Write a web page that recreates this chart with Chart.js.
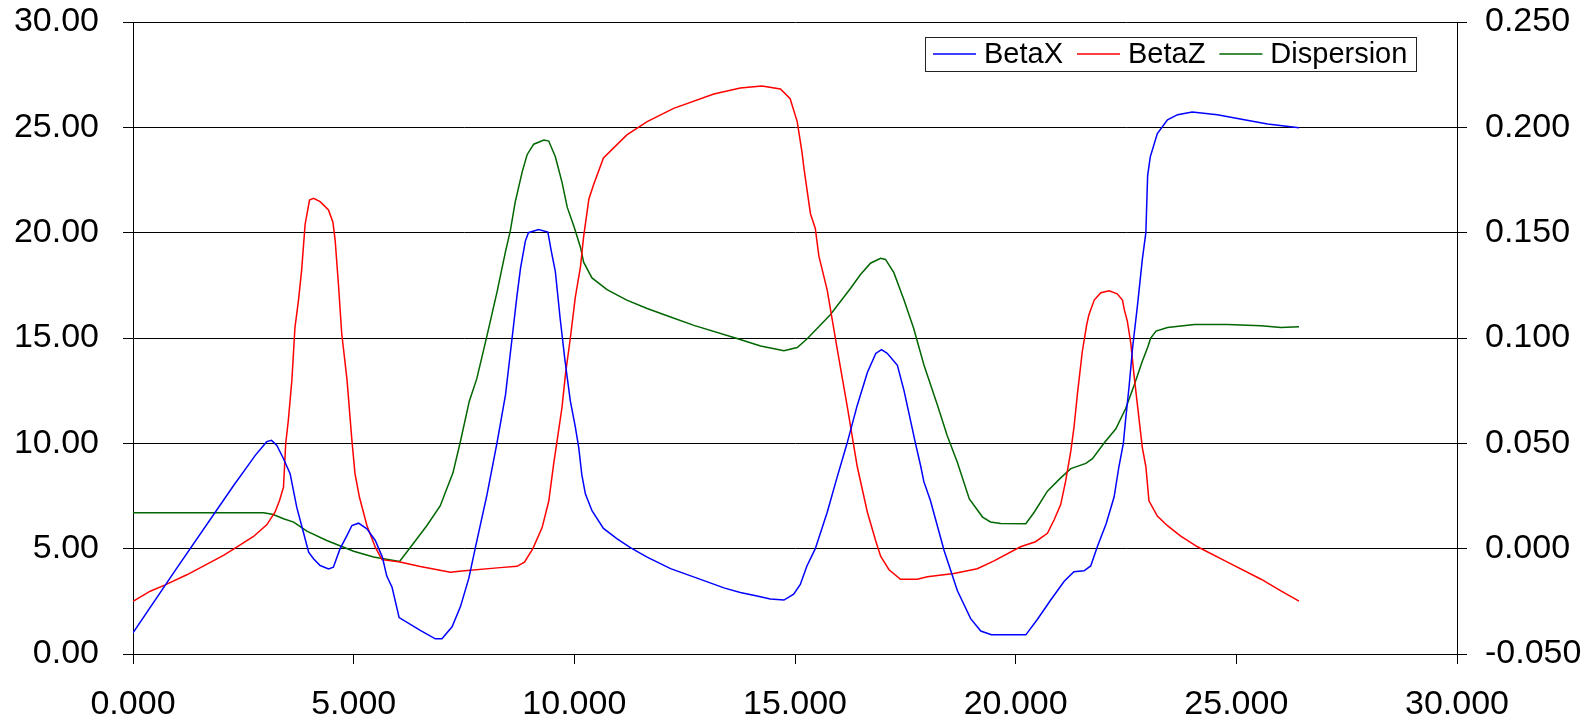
<!DOCTYPE html>
<html>
<head>
<meta charset="utf-8">
<script src="https://cdn.jsdelivr.net/npm/chart.js@4.4.1/dist/chart.umd.min.js"></script>
<style>
    html, body { margin: 0; padding: 0; background: #fff; }
</style>
</head>
<body>
<canvas id="latticeChart" width="1592" height="719"></canvas>
<script>
// ==================== DATA ====================
// longitudinal position (x axis) and value for each series

const betaXPos = [0.00, 1.00, 2.28, 2.58, 2.77, 3.03, 3.14, 3.26, 3.41, 3.56, 3.71, 3.85, 3.98, 4.09, 4.24, 4.43, 4.54, 4.69, 4.85, 4.96,
    5.11, 5.30, 5.49, 5.65, 5.75, 5.87, 6.03, 6.51, 6.85, 7.00, 7.23, 7.42, 7.61, 7.76, 8.02, 8.25, 8.44, 8.59, 8.70, 8.78,
    8.89, 8.96, 9.19, 9.40, 9.48, 9.57, 9.68, 9.79, 9.91, 10.02, 10.10, 10.17, 10.25, 10.40, 10.66, 10.97, 11.27, 11.65, 12.18, 12.78,
    13.39, 13.76, 14.14, 14.44, 14.75, 14.97, 15.12, 15.27, 15.46, 15.73, 15.95, 16.18, 16.41, 16.64, 16.83, 16.96, 17.09, 17.32, 17.47, 17.58,
    17.73, 17.85, 17.92, 18.07, 18.38, 18.68, 18.98, 19.21, 19.45, 20.23, 20.49, 20.79, 21.10, 21.32, 21.55, 21.70, 21.85, 22.05, 22.23, 22.34,
    22.44, 22.49, 22.57, 22.65, 22.76, 22.87, 22.95, 22.99, 23.05, 23.21, 23.44, 23.67, 24.00, 24.57, 25.18, 25.71, 26.42];
const betaX = [1.00, 4.10, 8.00, 8.87, 9.43, 10.08, 10.14, 9.90, 9.27, 8.56, 6.97, 5.86, 4.83, 4.52, 4.20, 4.04, 4.12, 4.99, 5.63, 6.10,
    6.21, 5.94, 5.39, 4.60, 3.70, 3.17, 1.73, 1.12, 0.72, 0.72, 1.29, 2.25, 3.60, 5.07, 7.55, 10.05, 12.30, 15.00, 17.00, 18.30,
    19.60, 20.00, 20.15, 20.03, 19.10, 18.15, 15.90, 13.90, 12.00, 10.80, 9.80, 8.50, 7.60, 6.80, 5.96, 5.47, 5.05, 4.60, 4.05, 3.60,
    3.14, 2.92, 2.75, 2.61, 2.56, 2.84, 3.30, 4.18, 5.00, 6.73, 8.36, 10.00, 11.80, 13.36, 14.27, 14.45, 14.27, 13.70, 12.50, 11.45,
    10.00, 8.90, 8.18, 7.27, 4.90, 3.00, 1.68, 1.09, 0.91, 0.91, 1.64, 2.55, 3.45, 3.91, 3.95, 4.18, 5.09, 6.18, 7.45, 8.90,
    10.00, 11.10, 12.70, 14.55, 16.55, 18.73, 20.00, 22.70, 23.60, 24.70, 25.36, 25.60, 25.73, 25.60, 25.36, 25.16, 24.98];

const betaZPos = [0.00, 0.39, 0.73, 1.22, 2.05, 2.35, 2.73, 3.03, 3.22, 3.32, 3.41, 3.46, 3.52, 3.60, 3.67, 3.75, 3.82, 3.90, 4.00, 4.09,
    4.24, 4.43, 4.53, 4.58, 4.66, 4.73, 4.85, 4.96, 5.03, 5.13, 5.30, 5.49, 5.64, 6.05, 6.51, 7.19, 7.45, 8.32, 8.70, 8.87,
    9.06, 9.27, 9.42, 9.53, 9.61, 9.72, 9.80, 9.91, 10.02, 10.14, 10.21, 10.33, 10.44, 10.66, 11.19, 11.65, 12.25, 13.16, 13.76, 14.25,
    14.67, 14.89, 15.05, 15.16, 15.20, 15.35, 15.46, 15.54, 15.73, 15.95, 16.18, 16.41, 16.64, 16.83, 16.94, 17.13, 17.39, 17.77, 18.00, 18.60,
    19.13, 19.51, 20.11, 20.45, 20.72, 20.87, 21.02, 21.13, 21.25, 21.32, 21.40, 21.51, 21.61, 21.66, 21.78, 21.93, 22.12, 22.30, 22.42, 22.46,
    22.53, 22.61, 22.68, 22.76, 22.87, 22.95, 23.02, 23.21, 23.44, 23.74, 24.12, 24.80, 25.56, 26.01, 26.42];
const betaZ = [2.50, 2.98, 3.28, 3.76, 4.68, 5.07, 5.58, 6.13, 6.74, 7.29, 7.92, 9.98, 11.10, 13.00, 15.50, 16.80, 18.20, 20.40, 21.55, 21.63,
    21.47, 21.08, 20.50, 19.65, 17.40, 15.20, 13.00, 10.14, 8.56, 7.45, 6.10, 5.07, 4.48, 4.37, 4.15, 3.88, 3.94, 4.10, 4.16, 4.36,
    5.00, 6.00, 7.25, 9.00, 10.13, 11.70, 13.30, 15.00, 16.90, 18.40, 19.80, 21.60, 22.30, 23.55, 24.64, 25.27, 25.90, 26.58, 26.87, 26.96,
    26.82, 26.36, 25.27, 23.80, 23.10, 20.90, 20.20, 18.90, 17.27, 14.55, 11.80, 8.90, 6.73, 5.36, 4.64, 4.00, 3.55, 3.55, 3.67, 3.82,
    4.05, 4.42, 5.09, 5.33, 5.73, 6.36, 7.09, 8.18, 9.64, 10.73, 12.36, 14.36, 15.64, 16.10, 16.80, 17.15, 17.24, 17.10, 16.80, 16.36,
    15.80, 14.73, 13.27, 11.80, 9.80, 8.90, 7.27, 6.55, 6.09, 5.60, 5.09, 4.36, 3.55, 3.00, 2.51];

const dispPos = [0.00, 2.96, 3.18, 3.41, 3.64, 3.94, 4.39, 5.00, 5.45, 6.04, 6.30, 6.66, 6.96, 7.25, 7.42, 7.62, 7.79, 8.02, 8.25, 8.44,
    8.55, 8.66, 8.82, 8.93, 9.08, 9.31, 9.42, 9.57, 9.72, 9.84, 9.99, 10.14, 10.21, 10.40, 10.74, 11.19, 11.65, 12.18, 12.71, 13.65,
    14.22, 14.75, 15.05, 15.27, 15.80, 16.26, 16.48, 16.71, 16.94, 17.05, 17.24, 17.47, 17.69, 17.92, 18.23, 18.45, 18.68, 18.95, 19.25, 19.43,
    19.66, 20.23, 20.42, 20.72, 21.02, 21.25, 21.59, 21.74, 22.00, 22.27, 22.49, 22.68, 22.87, 22.99, 23.06, 23.18, 23.44, 24.05, 24.80, 25.56,
    26.01, 26.42];
const dispersion = [0.0170, 0.0170, 0.0162, 0.0142, 0.0126, 0.0083, 0.0039, -0.0012, -0.0040, -0.0061, 0.0010, 0.0110, 0.0203, 0.0360, 0.0510, 0.0700, 0.0807, 0.1010, 0.1220, 0.1410,
    0.1510, 0.1645, 0.1790, 0.1870, 0.1920, 0.1940, 0.1935, 0.1860, 0.1740, 0.1620, 0.1530, 0.1430, 0.1360, 0.1285, 0.1230, 0.1180, 0.1140, 0.1100, 0.1060, 0.1000,
    0.0962, 0.0940, 0.0955, 0.0995, 0.1110, 0.1236, 0.1300, 0.1355, 0.1378, 0.1373, 0.1310, 0.1180, 0.1045, 0.0873, 0.0680, 0.0536, 0.0409, 0.0236, 0.0150, 0.0127,
    0.0120, 0.0118, 0.0173, 0.0273, 0.0336, 0.0380, 0.0405, 0.0427, 0.0500, 0.0569, 0.0664, 0.0773, 0.0890, 0.0955, 0.1000, 0.1033, 0.1050, 0.1064, 0.1064, 0.1058,
    0.1050, 0.1053];

const seriesLabels = ['BetaX', 'BetaZ', 'Dispersion'];
const seriesColors = ['#0000ff', '#ff0000', '#006600'];

const xTicks = { min: 0, max: 30, step: 5 };
const betaTicks = { min: 0, max: 30, step: 5 };
const dispTicks = { min: -0.05, max: 0.25, step: 0.05 };

// ==================== HELPERS ====================
const FONT = '"Liberation Sans", Arial, Helvetica, sans-serif';

function toPoints(xs, ys) {
    return xs.map((x, i) => ({ x: x, y: ys[i] }));
}

// avoid "-0.000" from floating point tick values
function fixed(v, digits) {
    const n = Math.abs(v) < 1e-9 ? 0 : Number(v);
    return n.toFixed(digits);
}

// fixed axis sizes so the plot area lands where the original has it
function sizeVertical(width) {
    return s => {
        s.width = width;
        s.paddingTop = 22;
        s.paddingBottom = 0;
    };
}

// framed legend sitting inside the plot, top right
const framedLegend = {
    id: 'framedLegend',
    afterDatasetsDraw(chart) {
        const ctx = chart.ctx;
        const area = chart.chartArea;
        const sample = 43, gapText = 8, gapItem = 14, padL = 8, padR = 9, h = 34;

        ctx.save();
        ctx.font = '29px ' + FONT;
        const items = chart.data.datasets.map(ds => ({
            label: ds.label, color: ds.borderColor, w: ctx.measureText(ds.label).width
        }));
        let total = padL + padR + gapItem * (items.length - 1);
        items.forEach(it => { total += sample + gapText + it.w; });
        total = Math.round(total);

        const right = Math.round(area.right - 41);
        const top = Math.round(area.top + 15);
        const left = right - total;

        ctx.fillStyle = '#fff';
        ctx.fillRect(left, top, total, h);
        ctx.strokeStyle = '#222';
        ctx.lineWidth = 1;
        ctx.strokeRect(left + 0.5, top + 0.5, total, h);

        const cy = top + h / 2;
        let x = left + padL;
        items.forEach(it => {
            ctx.strokeStyle = it.color;
            ctx.lineWidth = 1.5;
            ctx.beginPath();
            ctx.moveTo(x, cy);
            ctx.lineTo(x + sample, cy);
            ctx.stroke();
            x += sample + gapText;
            ctx.fillStyle = '#000';
            ctx.textBaseline = 'middle';
            ctx.textAlign = 'left';
            ctx.fillText(it.label, x, cy + 1);
            x += it.w + gapItem;
        });
        ctx.restore();
    }
};

// ==================== CHART ====================
Chart.defaults.font.family = FONT;
Chart.defaults.color = '#000';

const lineStyle = { borderWidth: 1.5, pointRadius: 0, tension: 0, fill: false };

new Chart(document.getElementById('latticeChart'), {
    type: 'line',
    data: {
        datasets: [
            Object.assign({ label: seriesLabels[0], data: toPoints(betaXPos, betaX), borderColor: seriesColors[0], yAxisID: 'y' }, lineStyle),
            Object.assign({ label: seriesLabels[1], data: toPoints(betaZPos, betaZ), borderColor: seriesColors[1], yAxisID: 'y' }, lineStyle),
            Object.assign({ label: seriesLabels[2], data: toPoints(dispPos, dispersion), borderColor: seriesColors[2], yAxisID: 'y2' }, lineStyle)
        ]
    },
    options: {
        responsive: false,
        devicePixelRatio: 1,
        animation: false,
        layout: { padding: 0 },
        plugins: {
            legend: { display: false },
            tooltip: { enabled: false }
        },
        scales: {
            x: {
                type: 'linear',
                min: xTicks.min, max: xTicks.max,
                ticks: { stepSize: xTicks.step, padding: 20, font: { size: 34 }, callback: v => fixed(v, 3) },
                grid: { drawOnChartArea: false, drawTicks: true, tickLength: 10, color: '#000' },
                border: { display: true, color: '#000', width: 1 },
                afterFit: s => { s.height = 65; }
            },
            y: {
                position: 'left',
                min: betaTicks.min, max: betaTicks.max,
                ticks: { stepSize: betaTicks.step, padding: 24, font: { size: 34 }, callback: v => fixed(v, 2) },
                grid: { drawOnChartArea: true, drawTicks: true, tickLength: 10, color: '#000', lineWidth: 1 },
                border: { display: true, color: '#000', width: 1 },
                afterFit: sizeVertical(133)
            },
            y2: {
                position: 'right',
                min: dispTicks.min, max: dispTicks.max,
                ticks: { stepSize: dispTicks.step, padding: 18, font: { size: 34 }, callback: v => fixed(v, 3) },
                grid: { drawOnChartArea: false, drawTicks: true, tickLength: 10, color: '#000' },
                border: { display: true, color: '#000', width: 1 },
                afterFit: sizeVertical(135)
            }
        }
    },
    plugins: [framedLegend]
});
</script>
</body>
</html>
